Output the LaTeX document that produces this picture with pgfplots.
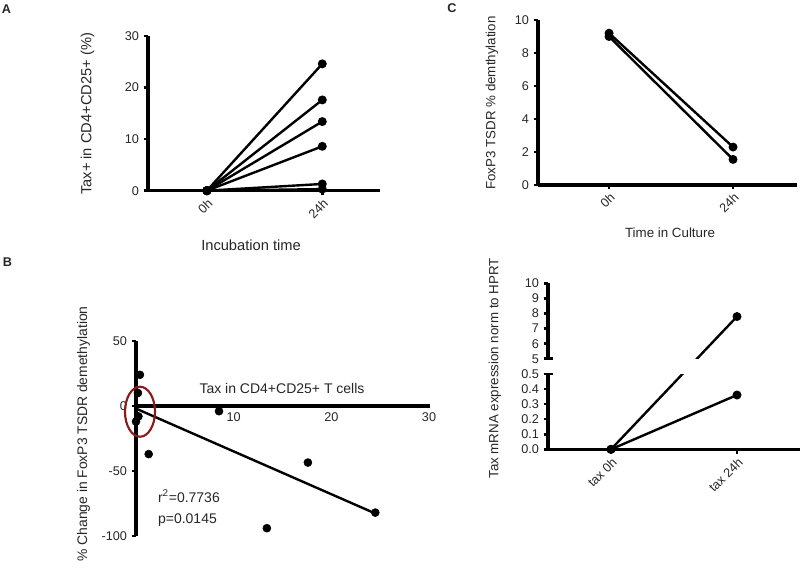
\documentclass[border=0pt]{standalone}
\usepackage{pgfplots}
\pgfplotsset{compat=1.18}
\usepackage{fontspec}
\setmainfont{Liberation Sans}
\definecolor{ellred}{HTML}{8B1A1A}
\definecolor{txt}{HTML}{262626}
\pgfplotsset{
  gp/.style={scale only axis, anchor=south west, axis x line=bottom, axis y line=left,
    every outer x axis line/.append style={line width=2.7pt, -},
    every outer y axis line/.append style={line width=2.7pt, -},
    every inner x axis line/.append style={line width=2.7pt, -},
    axis line style={-, black},
    tick align=outside, major tick length=3.2pt,
    every tick/.append style={line width=2pt, black},
    ticklabel style={font=\fontsize{9.5}{11}\selectfont, text=txt},
    /pgf/number format/assume math mode=true,
    clip=false},
  dl/.style={black, line width=1.8pt, mark=*, mark size=2.4pt, mark options={solid}},
  rot/.style={xticklabel style={rotate=45, anchor=north east, inner sep=1.5pt}},
}
\begin{document}
\begin{tikzpicture}
\path[use as bounding box] (0,0) rectangle (600pt,426pt);
% ---------------- Panel A
\begin{axis}[gp, rot, at={(111pt,283pt)}, width=174pt, height=116pt,
  xmin=-0.51, xmax=1.5, ymin=0, ymax=30,
  xtick={0,1}, xticklabels={0h,24h}, ytick={0,10,20,30}, yticklabels={0,10,20,30}]
\addplot[dl] coordinates {(0,0) (1,24.6)};
\addplot[dl] coordinates {(0,0) (1,17.6)};
\addplot[dl] coordinates {(0,0) (1,13.4)};
\addplot[dl] coordinates {(0,0) (1,8.6)};
\addplot[dl] coordinates {(0,0) (1,1.3)};
\addplot[dl] coordinates {(0,0) (1,0.3)};
\end{axis}
% ---------------- Panel B
\begin{axis}[gp, at={(102pt,24pt)}, width=219.75pt, height=146.25pt,
  axis x line=middle,
  every inner x axis line/.append style={line width=2.7pt, -},
  xmin=0, xmax=30, ymin=-100, ymax=50,
  xtick={10,20,30}, xticklabels={10,20,30},
  ytick={-100,-50,0,50}, yticklabels={-100,-50,0,50}]
\addplot[only marks, black, mark=*, mark size=3pt] coordinates {
  (0.4,24) (0.2,10) (0.25,-8) (0.0,-12) (1.3,-37) (8.5,-4) (17.6,-43.5) (13.4,-94) (24.5,-82)};
\addplot[black, line width=1.8pt, no marks] coordinates {(0,-2) (24.6,-83)};
\end{axis}
\draw[ellred, line width=1.6pt] (105pt,117.2pt) ellipse [x radius=11.25pt, y radius=18.75pt];
% ---------------- Panel C
\begin{axis}[gp, rot, at={(403.5pt,287.25pt)}, width=194.25pt, height=123.75pt,
  xmin=-0.573, xmax=1.516, ymin=0, ymax=10,
  xtick={0,1}, xticklabels={0h,24h}, ytick={0,2,4,6,8,10}, yticklabels={0,2,4,6,8,10}]
\addplot[dl] coordinates {(0,9.2) (1,2.3)};
\addplot[dl] coordinates {(0,9.0) (1,1.55)};
\end{axis}
% ---------------- Panel D (broken y axis)
\begin{axis}[gp, rot, at={(411pt,89pt)}, width=189pt, height=124.5pt,
  xmin=-0.5, xmax=1.5, ymin=0, ymax=10,
  y coord trafo/.code={\pgfmathparse{(#1<0.6)?(10*#1):(#1+1)}},
  y coord inv trafo/.code={\pgfmathparse{(#1<5.5)?(#1/10):(#1-1)}},
  every outer y axis line/.append style={draw=none},
  xtick={0,1}, xticklabels={tax 0h,tax 24h},
  ytick={0,0.1,0.2,0.3,0.4,0.5,5,6,7,8,9,10},
  yticklabels={0.0,0.1,0.2,0.3,0.4,0.5,5,6,7,8,9,10}]
\addplot[dl] coordinates {(0,0) (1,7.8)};
\addplot[dl] coordinates {(0,0) (1,0.36)};
\end{axis}
% broken y axis of panel D, drawn in page coordinates
\fill[white] (496pt,145.6pt) rectangle (543pt,156.9pt);
\draw[black, line width=2.7pt] (411pt,87.9pt) -- (411pt,145.6pt);
\draw[black, line width=2.7pt] (411pt,156.9pt) -- (411pt,213.5pt);
\draw[black, line width=2pt] (408.5pt,145.6pt) -- (415pt,145.6pt);
\draw[black, line width=2pt] (408.5pt,156.9pt) -- (415pt,156.9pt);
% ---------------- Texts
\begin{scope}[every node/.style={text=txt}]
\node[font=\bfseries\fontsize{9.5}{11}\selectfont] at (4.9pt,419.25pt) {A};
\node[font=\bfseries\fontsize{9.5}{11}\selectfont] at (5.6pt,229.5pt) {B};
\node[font=\bfseries\fontsize{9.5}{11}\selectfont] at (339pt,420pt) {C};
\node[font=\fontsize{11}{13}\selectfont] at (188.25pt,242.25pt) {Incubation time};
\node[font=\fontsize{11}{13}\selectfont, rotate=90] at (65.6pt,340.6pt) {Tax+ in CD4+CD25+ (\%)};
\node[font=\fontsize{10.4}{12}\selectfont, rotate=90] at (62.6pt,100.5pt) {\% Change in FoxP3 TSDR demethylation};
\node[font=\fontsize{10.5}{12}\selectfont] at (211.5pt,135pt) {Tax in CD4+CD25+ T cells};
\node[font=\fontsize{10.5}{12}\selectfont, anchor=west] at (115pt,54pt) {r\textsuperscript{2}=0.7736};
\node[font=\fontsize{10.5}{12}\selectfont, anchor=west] at (115pt,36pt) {p=0.0145};
\node[font=\fontsize{10}{12}\selectfont, rotate=90] at (369pt,348.75pt) {FoxP3 TSDR \% demthylation};
\node[font=\fontsize{10}{12}\selectfont] at (502.5pt,251.25pt) {Time in Culture};
\node[font=\fontsize{10}{12}\selectfont, rotate=90] at (371.25pt,149.75pt) {Tax mRNA expression norm to HPRT};
\end{scope}
\end{tikzpicture}
\end{document}
